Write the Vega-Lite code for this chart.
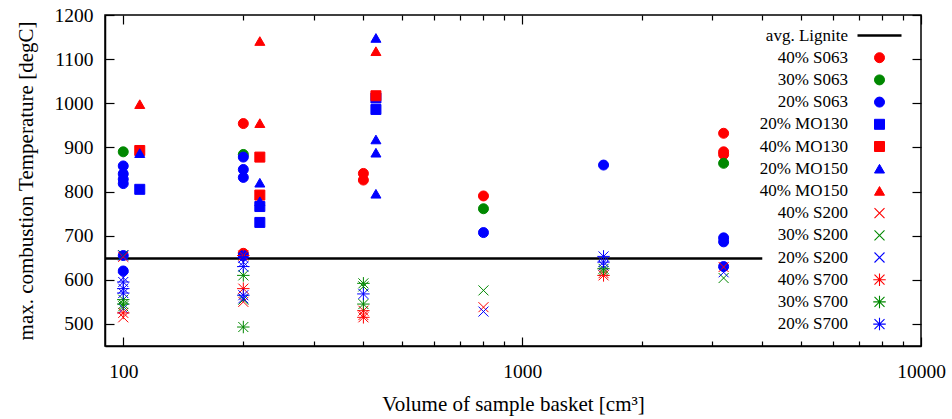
{
  "$schema": "https://vega.github.io/schema/vega-lite/v6.json",
  "width": 816,
  "height": 331,
  "autosize": "none",
  "padding": {"left": 105, "top": 15, "right": 31, "bottom": 73},
  "background": "white",
  "config": {
    "view": {"stroke": "black", "strokeWidth": 1.5},
    "font": "Liberation Serif",
    "axis": {"grid": false, "tickColor": "black", "domainColor": "black", "labelColor": "black", "titleColor": "black", "labelFont": "Liberation Serif", "titleFont": "Liberation Serif", "titleFontWeight": "normal", "tickWidth": 1.2, "domainWidth": 1.5, "format": "d", "labelFlush": false, "labelOverlap": false},
    "legend": {"title": null, "orient": "none", "legendX": 766, "legendY": 12, "labelFont": "Liberation Serif", "labelFontSize": 17, "labelColor": "black", "labelAlign": "right", "labelOffset": -40, "symbolSize": 100, "rowPadding": 4.2, "padding": 0}
  },
  "datasets": {
    "avg": [{"x0": 90, "x1": 4000, "y": 648, "s": "avg. Lignite"}],
    "pts": [
      {"x": 200, "y": 954, "s": "40% S063"}, {"x": 200, "y": 660, "s": "40% S063"}, {"x": 400, "y": 841, "s": "40% S063"}, {"x": 400, "y": 826, "s": "40% S063"}, {"x": 800, "y": 790, "s": "40% S063"}, {"x": 3200, "y": 932, "s": "40% S063"}, {"x": 3200, "y": 890, "s": "40% S063"}, {"x": 3200, "y": 884, "s": "40% S063"},
      {"x": 100, "y": 890, "s": "30% S063"}, {"x": 200, "y": 884, "s": "30% S063"}, {"x": 800, "y": 761, "s": "30% S063"}, {"x": 3200, "y": 864, "s": "30% S063"},
      {"x": 100, "y": 858, "s": "20% S063"}, {"x": 100, "y": 840, "s": "20% S063"}, {"x": 100, "y": 828, "s": "20% S063"}, {"x": 100, "y": 818, "s": "20% S063"}, {"x": 100, "y": 655, "s": "20% S063"}, {"x": 100, "y": 620, "s": "20% S063"}, {"x": 200, "y": 878, "s": "20% S063"}, {"x": 200, "y": 850, "s": "20% S063"}, {"x": 200, "y": 832, "s": "20% S063"}, {"x": 200, "y": 655, "s": "20% S063"}, {"x": 800, "y": 707, "s": "20% S063"}, {"x": 1600, "y": 860, "s": "20% S063"}, {"x": 3200, "y": 695, "s": "20% S063"}, {"x": 3200, "y": 686, "s": "20% S063"}, {"x": 3200, "y": 630, "s": "20% S063"},
      {"x": 110, "y": 805, "s": "20% MO130"}, {"x": 220, "y": 766, "s": "20% MO130"}, {"x": 220, "y": 730, "s": "20% MO130"}, {"x": 430, "y": 1012, "s": "20% MO130"}, {"x": 430, "y": 986, "s": "20% MO130"},
      {"x": 110, "y": 893, "s": "40% MO130"}, {"x": 220, "y": 878, "s": "40% MO130"}, {"x": 220, "y": 792, "s": "40% MO130"}, {"x": 430, "y": 1017, "s": "40% MO130"},
      {"x": 110, "y": 887, "s": "20% MO150"}, {"x": 220, "y": 820, "s": "20% MO150"}, {"x": 220, "y": 778, "s": "20% MO150"}, {"x": 430, "y": 1148, "s": "20% MO150"}, {"x": 430, "y": 918, "s": "20% MO150"}, {"x": 430, "y": 888, "s": "20% MO150"}, {"x": 430, "y": 795, "s": "20% MO150"},
      {"x": 110, "y": 998, "s": "40% MO150"}, {"x": 220, "y": 1141, "s": "40% MO150"}, {"x": 220, "y": 955, "s": "40% MO150"}, {"x": 430, "y": 1118, "s": "40% MO150"},
      {"x": 100, "y": 652, "s": "40% S200"}, {"x": 100, "y": 515, "s": "40% S200"}, {"x": 200, "y": 550, "s": "40% S200"}, {"x": 400, "y": 520, "s": "40% S200"}, {"x": 800, "y": 538, "s": "40% S200"}, {"x": 1600, "y": 615, "s": "40% S200"}, {"x": 3200, "y": 629, "s": "40% S200"},
      {"x": 100, "y": 656, "s": "30% S200"}, {"x": 100, "y": 540, "s": "30% S200"}, {"x": 200, "y": 555, "s": "30% S200"}, {"x": 400, "y": 585, "s": "30% S200"}, {"x": 800, "y": 576, "s": "30% S200"}, {"x": 1600, "y": 620, "s": "30% S200"}, {"x": 3200, "y": 604, "s": "30% S200"},
      {"x": 100, "y": 655, "s": "20% S200"}, {"x": 100, "y": 605, "s": "20% S200"}, {"x": 100, "y": 535, "s": "20% S200"}, {"x": 200, "y": 640, "s": "20% S200"}, {"x": 200, "y": 558, "s": "20% S200"}, {"x": 800, "y": 528, "s": "20% S200"}, {"x": 1600, "y": 632, "s": "20% S200"}, {"x": 3200, "y": 617, "s": "20% S200"},
      {"x": 100, "y": 525, "s": "40% S700"}, {"x": 200, "y": 580, "s": "40% S700"}, {"x": 200, "y": 655, "s": "40% S700"}, {"x": 400, "y": 530, "s": "40% S700"}, {"x": 400, "y": 515, "s": "40% S700"}, {"x": 1600, "y": 610, "s": "40% S700"},
      {"x": 100, "y": 555, "s": "30% S700"}, {"x": 100, "y": 545, "s": "30% S700"}, {"x": 200, "y": 610, "s": "30% S700"}, {"x": 200, "y": 493, "s": "30% S700"}, {"x": 400, "y": 592, "s": "30% S700"}, {"x": 400, "y": 545, "s": "30% S700"}, {"x": 1600, "y": 625, "s": "30% S700"},
      {"x": 100, "y": 595, "s": "20% S700"}, {"x": 100, "y": 580, "s": "20% S700"}, {"x": 100, "y": 570, "s": "20% S700"}, {"x": 200, "y": 650, "s": "20% S700"}, {"x": 200, "y": 630, "s": "20% S700"}, {"x": 200, "y": 565, "s": "20% S700"}, {"x": 400, "y": 568, "s": "20% S700"}, {"x": 1600, "y": 653, "s": "20% S700"}, {"x": 1600, "y": 640, "s": "20% S700"}
    ]
  },
  "layer": [
    {
      "data": {"name": "avg"},
      "mark": {"type": "rule"},
      "encoding": {
        "x": {"field": "x0", "type": "quantitative", "scale": {"type": "log", "domain": [90, 10000], "nice": false},
              "axis": {"orient": "bottom", "values": [100, 1000, 10000], "tickSize": -9, "labelPadding": 25, "labelFontSize": 19.5, "title": "Volume of sample basket [cm³]", "titleFontSize": 21, "titlePadding": 13}},
        "x2": {"field": "x1"},
        "y": {"field": "y", "type": "quantitative", "scale": {"domain": [450, 1200], "nice": false, "zero": false},
              "axis": {"orient": "left", "values": [500, 600, 700, 800, 900, 1000, 1100, 1200], "tickSize": -9, "labelPadding": 21, "labelFontSize": 19.5, "title": "max. combustion Temperature [degC]", "titleFontSize": 21, "titlePadding": 18}},
        "stroke": {"field": "s", "type": "nominal",
                   "scale": {"domain": ["avg. Lignite", "40% S063", "30% S063", "20% S063", "20% MO130", "40% MO130", "20% MO150", "40% MO150", "40% S200", "30% S200", "20% S200", "40% S700", "30% S700", "20% S700"],
                             "range": ["#000000", "#ff0000", "#008800", "#0000ff", "#0000ff", "#ff0000", "#0000ff", "#ff0000", "#ff0000", "#008800", "#0000ff", "#ff0000", "#008800", "#0000ff"]}},
        "strokeWidth": {"field": "s", "type": "nominal",
                   "scale": {"type": "ordinal", "domain": ["avg. Lignite", "40% S063", "30% S063", "20% S063", "20% MO130", "40% MO130", "20% MO150", "40% MO150", "40% S200", "30% S200", "20% S200", "40% S700", "30% S700", "20% S700"],
                             "range": [2.5, 1, 1, 1, 1, 1, 1, 1, 1.1, 1.1, 1.1, 1.1, 1.1, 1.1]}}
      }
    },
    {
      "data": {"name": "pts"},
      "mark": {"type": "point", "size": 100, "strokeWidth": 1, "opacity": 1},
      "encoding": {
        "x": {"field": "x", "type": "quantitative", "scale": {"type": "log", "domain": [90, 10000], "nice": false},
              "axis": {"orient": "bottom", "values": [200, 300, 400, 500, 600, 700, 800, 900, 2000, 3000, 4000, 5000, 6000, 7000, 8000, 9000], "tickSize": -5, "labels": false, "domain": false, "title": null}},
        "y": {"field": "y", "type": "quantitative", "scale": {"domain": [450, 1200], "nice": false, "zero": false},
              "axis": {"orient": "right", "values": [500, 600, 700, 800, 900, 1000, 1100, 1200], "tickSize": -9, "labels": false, "domain": false, "title": null}},
        "fill": {"field": "s", "type": "nominal",
                 "scale": {"domain": ["avg. Lignite", "40% S063", "30% S063", "20% S063", "20% MO130", "40% MO130", "20% MO150", "40% MO150", "40% S200", "30% S200", "20% S200", "40% S700", "30% S700", "20% S700"],
                           "range": ["#000000", "#ff0000", "#008800", "#0000ff", "#0000ff", "#ff0000", "#0000ff", "#ff0000", "#ff0000", "#008800", "#0000ff", "#ff0000", "#008800", "#0000ff"]}},
        "stroke": {"field": "s", "type": "nominal",
                   "scale": {"domain": ["avg. Lignite", "40% S063", "30% S063", "20% S063", "20% MO130", "40% MO130", "20% MO150", "40% MO150", "40% S200", "30% S200", "20% S200", "40% S700", "30% S700", "20% S700"],
                             "range": ["#000000", "#ff0000", "#008800", "#0000ff", "#0000ff", "#ff0000", "#0000ff", "#ff0000", "#ff0000", "#008800", "#0000ff", "#ff0000", "#008800", "#0000ff"]}},
        "shape": {"field": "s", "type": "nominal",
                  "scale": {"domain": ["avg. Lignite", "40% S063", "30% S063", "20% S063", "20% MO130", "40% MO130", "20% MO150", "40% MO150", "40% S200", "30% S200", "20% S200", "40% S700", "30% S700", "20% S700"],
                            "range": ["M-4.4,0L4.4,0", "circle", "circle", "circle", "square", "square", "triangle-up", "triangle-up", "M-1,-1L1,1M-1,1L1,-1", "M-1,-1L1,1M-1,1L1,-1", "M-1,-1L1,1M-1,1L1,-1", "M-1,-1L1,1M-1,1L1,-1M0,-1.25L0,1.25M-1.25,0L1.25,0", "M-1,-1L1,1M-1,1L1,-1M0,-1.25L0,1.25M-1.25,0L1.25,0", "M-1,-1L1,1M-1,1L1,-1M0,-1.25L0,1.25M-1.25,0L1.25,0"]}}
      }
    },
    {
      "data": {"name": "avg"},
      "mark": {"type": "rule", "opacity": 0},
      "encoding": {
        "x": {"field": "x0", "type": "quantitative", "scale": {"type": "log", "domain": [90, 10000], "nice": false},
              "axis": {"orient": "top", "values": [100, 1000, 10000], "tickSize": -9, "labels": false, "domain": false, "title": null}},
        "x2": {"field": "x1"},
        "y": {"field": "y", "type": "quantitative", "scale": {"domain": [450, 1200], "nice": false, "zero": false}, "axis": null}
      }
    },
    {
      "data": {"name": "avg"},
      "mark": {"type": "rule", "opacity": 0},
      "encoding": {
        "x": {"field": "x0", "type": "quantitative", "scale": {"type": "log", "domain": [90, 10000], "nice": false},
              "axis": {"orient": "top", "values": [200, 300, 400, 500, 600, 700, 800, 900, 2000, 3000, 4000, 5000, 6000, 7000, 8000, 9000], "tickSize": -5, "labels": false, "domain": false, "title": null}},
        "x2": {"field": "x1"},
        "y": {"field": "y", "type": "quantitative", "scale": {"domain": [450, 1200], "nice": false, "zero": false}, "axis": null}
      }
    }
  ],
  "resolve": {"axis": {"x": "independent", "y": "independent"}}
}
